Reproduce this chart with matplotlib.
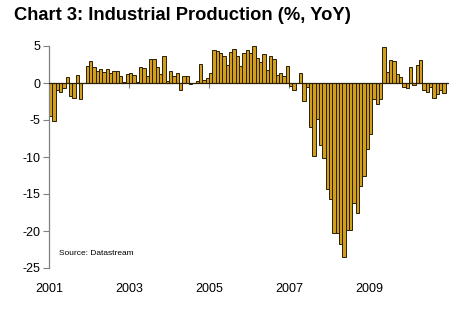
import numpy as np
import matplotlib
matplotlib.use('Agg')
import matplotlib.pyplot as plt

plt.rcParams['font.family'] = ['Liberation Sans', 'DejaVu Sans']

# Monthly industrial production, % YoY, Jan 2001 - Nov 2010
ip_2001 = [-4.5, -5.2, -0.9, -1.2, -0.7, 0.8, -1.7, -2.0, 1.1, -2.1, 0.0, 2.3]
ip_2002 = [3.0, 2.2, 1.6, 1.9, 1.5, 1.9, 1.3, 1.6, 1.6, 0.9, 0.1, 1.2]
ip_2003 = [1.3, 1.1, 0.2, 2.1, 2.0, 0.9, 3.2, 3.2, 2.2, 1.2, 3.6, 0.3]
ip_2004 = [1.6, 0.9, 1.3, -0.9, 0.9, 1.0, -0.2, 0.0, 0.3, 2.6, 0.45, 0.7]
ip_2005 = [1.4, 4.4, 4.3, 4.1, 3.6, 2.5, 4.2, 4.6, 3.6, 2.3, 4.0, 4.4]
ip_2006 = [4.1, 5.0, 3.4, 2.9, 3.9, 1.8, 3.6, 3.3, 1.1, 1.4, 1.0, 2.3]
ip_2007 = [-0.4, -1.0, 0.0, 1.4, -2.4, -0.6, -5.9, -9.8, -4.8, -8.4, -10.2, -14.3]
ip_2008 = [-15.7, -20.3, -20.3, -21.8, -23.5, -19.9, -19.8, -16.2, -17.6, -13.9, -12.5, -8.9]
ip_2009 = [-6.9, -2.2, -2.8, -2.2, 4.8, 1.5, 3.1, 2.95, 1.15, 0.8, -0.5, -0.65]
ip_2010 = [2.2, -0.25, 2.4, 3.1, -0.95, -1.2, -0.6, -2.0, -1.55, -0.9, -1.3]

values = ip_2001 + ip_2002 + ip_2003 + ip_2004 + ip_2005 + ip_2006 + ip_2007 + ip_2008 + ip_2009 + ip_2010
year_labels = ['2001', '2003', '2005', '2007', '2009']
y_ticks = [5, 0, -5, -10, -15, -20, -25]

months = np.arange(len(values))
year_pos = [12 * (int(y) - 2001) for y in year_labels]

fig = plt.figure(figsize=(4.69, 3.27), dpi=100)
ax = fig.add_axes([49/469, 1 - 268/327, 400/469, 222/327])

ax.bar(months, values, width=1.0, align='edge', color='#D29E1F',
       edgecolor='#2a1f00', linewidth=0.7, zorder=2)
ax.axhline(0, color='#2a1f00', linewidth=0.9, zorder=3)
# small year ticks on the zero line
ax.vlines(year_pos[1:], -0.7, 0, color='#808080', linewidth=0.8, zorder=1)

ax.set_xlim(0, 120)
ax.set_ylim(-25, 5)
ax.set_yticks(y_ticks)
ax.set_yticklabels([str(t) for t in y_ticks], fontsize=9)
ax.set_xticks(year_pos)
ax.set_xticklabels(year_labels, fontsize=9)
ax.tick_params(axis='x', length=0, pad=11)
ax.tick_params(axis='y', length=4, color='#808080', pad=2)

for s in ['top', 'right', 'bottom']:
    ax.spines[s].set_visible(False)
ax.spines['left'].set_color('#808080')
ax.spines['left'].set_linewidth(0.9)

ax.text(3, -23.1, 'Source: Datastream', fontsize=6, va='center', ha='left')

fig.text(14/469, 1 - 16/327, 'Chart 3: Industrial Production (%, YoY)',
         fontsize=13.2, fontweight='bold', va='center', ha='left')

fig.savefig('out.png', dpi=100)
